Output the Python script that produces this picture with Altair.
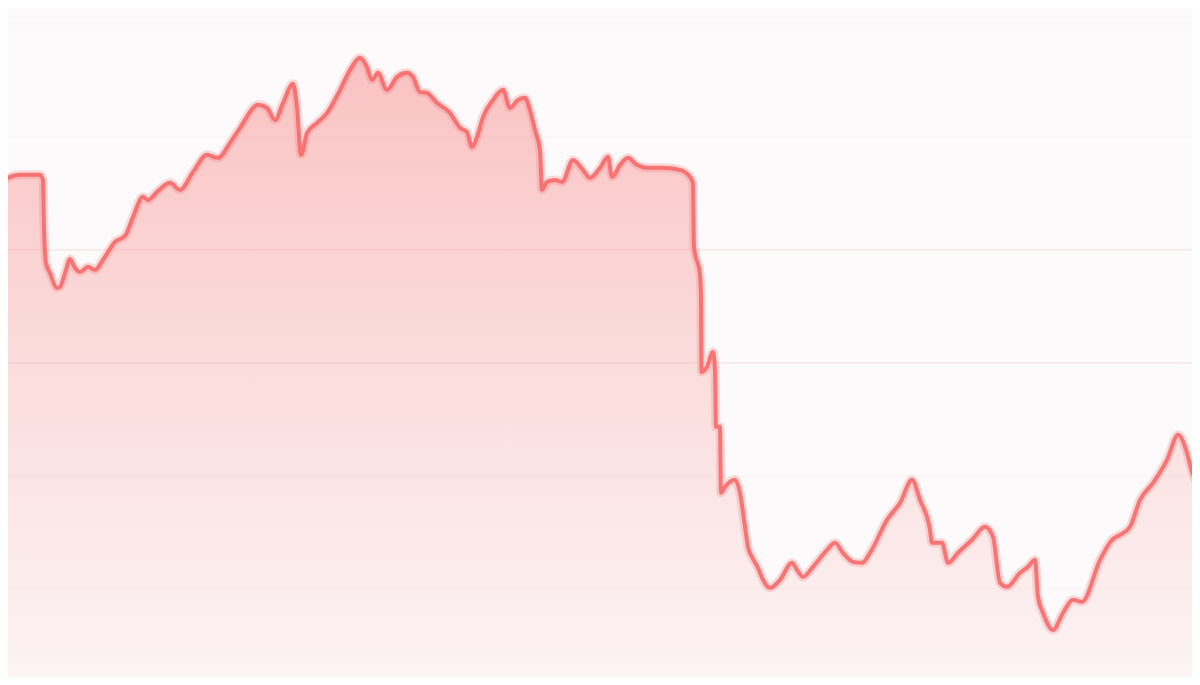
import altair as alt
import pandas as pd

days = [
    0, 2.5, 5, 10, 10.75, 11, 11.5, 12.5, 14.25, 15,
    16.25, 17.5, 18.75, 20, 22, 23.75, 25.75, 28.75, 31.25, 33.25,
    35.75, 37, 39.25, 42.5, 45, 48.25, 51.75, 54.5, 57.5, 60,
    64.5, 66.75, 68.75, 70.75, 73.25, 74.25, 75.25, 76.75, 79.25, 81.75,
    85, 87.5, 90, 91.75, 93, 94.5, 96.75, 99.25, 101.75, 103.25,
    105, 106.75, 109.25, 112.5, 115, 116.75, 118, 119.25, 120.75, 123.25,
    125.75, 127.5, 129.5, 131.25, 132.5, 133.75, 135, 135.5, 136.75, 138.75,
    140.5, 143.25, 145.75, 147.5, 150, 152, 153, 155, 157, 159.25,
    161.75, 165.75, 170, 172.5, 173.25, 173.5, 175, 175.25, 175.375, 176.75,
    178.25, 178.75, 179, 180, 180.25, 181.25, 183.75, 185, 186.25, 187,
    188, 189.5, 190.75, 192.5, 195, 198, 199.25, 200.75, 203.25, 206.75,
    208.75, 210.75, 213.25, 215.5, 217.5, 221.75, 225, 228, 230, 232.5,
    233, 235.5, 237, 239.5, 243, 246.25, 248.25, 250, 251.75, 255,
    257, 258.75, 259.5, 260.75, 263.25, 265.75, 268.25, 270.5, 275, 278,
    280, 282.5, 285, 288.25, 291.75, 294.5, 296.75, 298, 300,
]

values = [
    45.93, 46.46, 46.64, 46.64, 46.19, 42.04, 38.85, 37.96, 36.64, 36.73,
    37.96, 39.20, 38.41, 38.05, 38.50, 38.23, 39.12, 40.71, 41.24, 42.92,
    44.69, 44.42, 45.13, 45.93, 45.31, 46.90, 48.41, 48.14, 49.47, 50.80,
    52.83, 52.57, 51.50, 53.01, 54.69, 52.65, 48.41, 50.35, 51.24, 52.12,
    54.16, 55.93, 56.99, 56.19, 55.04, 55.66, 54.16, 55.31, 55.66, 55.31,
    53.98, 53.89, 53.01, 52.12, 50.80, 50.44, 49.12, 50.00, 51.77, 53.27,
    54.16, 52.57, 53.27, 53.45, 52.39, 50.62, 48.85, 45.31, 46.02, 46.19,
    46.02, 47.96, 47.08, 46.37, 47.26, 48.23, 46.46, 47.52, 48.14, 47.52,
    47.26, 47.26, 47.08, 46.46, 45.93, 40.27, 37.79, 36.02, 29.20, 29.65,
    30.97, 29.38, 24.34, 24.34, 18.50, 19.03, 19.65, 18.50, 15.49, 13.72,
    12.83, 11.86, 10.80, 10.09, 10.80, 12.30, 11.68, 11.06, 11.95, 13.45,
    14.07, 13.19, 12.39, 12.30, 13.19, 16.11, 17.61, 19.65, 17.88, 15.22,
    14.07, 14.07, 12.30, 13.19, 14.34, 15.49, 14.60, 10.53, 10.18, 11.42,
    11.95, 12.57, 9.29, 7.88, 6.37, 7.88, 9.03, 8.85, 12.57, 14.34,
    14.78, 15.49, 17.88, 19.38, 21.42, 23.63, 22.04, 20.35, 19.03,
]

grid_values = [10, 20, 30, 40, 50, 60]
grid_strength = [0.05, 0.07, 0.28, 0.28, 0.06, 0.05]
x_domain = [2, 298]
y_domain = [2.2, 61.4]

assert len(days) == len(values)
df = pd.DataFrame({
    "day": days,
    "value": values,
    "floor": [y_domain[0]] * len(days),
    "idx": list(range(len(days))),
})
grid_df = pd.DataFrame({"value": grid_values, "strength": grid_strength})

x_scale = alt.Scale(domain=x_domain, nice=False, zero=False)
y_scale = alt.Scale(domain=y_domain, nice=False, zero=False)

x_enc = alt.X("day:Q", scale=x_scale, axis=None)
y_enc = alt.Y("value:Q", scale=y_scale, axis=None)

base = alt.Chart(df)

area = base.mark_area(
    clip=True,
    interpolate="monotone",
    color=alt.Gradient(
        gradient="linear",
        stops=[
            alt.GradientStop(color="#fac2c2", offset=0),
            alt.GradientStop(color="#fbdada", offset=0.45),
            alt.GradientStop(color="#fcf3f3", offset=1),
        ],
        x1=1, x2=1, y1=0, y2=1,
    ),
).encode(x=x_enc, y=y_enc, y2="floor:Q")

grid = alt.Chart(grid_df).mark_rule(color="#f0a0aa", strokeWidth=1.2).encode(
    y=y_enc,
    opacity=alt.Opacity("strength:Q", scale=None, legend=None),
)

glow = base.mark_line(
    clip=True, interpolate="monotone", color="#f87272", strokeWidth=9,
    opacity=0.25, strokeJoin="round", strokeCap="round",
).encode(x=x_enc, y=y_enc, order="idx:Q")

line = base.mark_line(
    clip=True, interpolate="monotone", color="#f76464", strokeWidth=4,
    opacity=0.85, strokeJoin="round", strokeCap="round",
).encode(x=x_enc, y=y_enc, order="idx:Q")

chart = (
    alt.layer(area, grid, glow, line)
    .properties(width=1184, height=669, padding=0, autosize=alt.AutoSizeParams(type="none"),
                background="#fcfafa")
    .configure_view(stroke=None)
)

chart.save("out.html", embed_options={"renderer": "svg", "actions": False})
